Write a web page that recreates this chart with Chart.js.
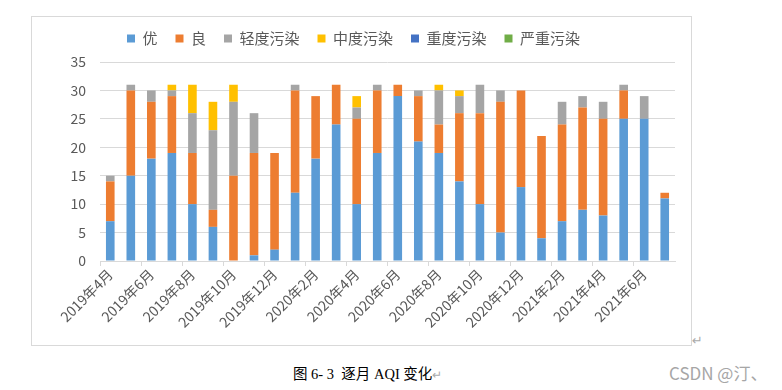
<!DOCTYPE html>
<html>
<head>
<meta charset="utf-8">
<script src="https://cdn.jsdelivr.net/npm/chart.js@4"></script>
<style>
  body { margin: 0; background: #fff; width: 782px; height: 390px; position: relative; overflow: hidden; }
  #frame { position: absolute; left: 31px; top: 16px; width: 659px; height: 328px; border: 1px solid #d9d9d9; }
  #caption { position: absolute; left: 293px; top: 362px; font: 14.5px "Liberation Serif", "Noto Sans CJK SC", serif; color: #000; white-space: pre; }
  .mark { color: #aaa; font-size: 12px; }
  #mark2 { position: absolute; left: 692px; top: 333px; font: 13px "DejaVu Sans", sans-serif; color: #aaa; }
  #wm { position: absolute; left: 669px; top: 360px; font: 17px "Noto Sans CJK SC", sans-serif; color: #a6a6a6; }
</style>
</head>
<body>
<div id="frame"><canvas id="grafico" width="659" height="328"></canvas></div>
<div id="mark2">↵</div>
<div id="caption">图 6- 3  逐月 AQI 变化<span class="mark">↵</span></div>
<div id="wm">CSDN @汀、</div>
<script>
const meses = [
  "2019年4月", "2019年5月", "2019年6月", "2019年7月", "2019年8月", "2019年9月", "2019年10月",
  "2019年11月", "2019年12月", "2020年1月", "2020年2月", "2020年3月", "2020年4月", "2020年5月",
  "2020年6月", "2020年7月", "2020年8月", "2020年9月", "2020年10月", "2020年11月", "2020年12月",
  "2021年1月", "2021年2月", "2021年3月", "2021年4月", "2021年5月", "2021年6月", "2021年7月"
];

const you      = [7, 15, 18, 19, 10, 6, 0, 1, 2, 12, 18, 24, 10, 19, 29, 21, 19, 14, 10, 5, 13, 4, 7, 9, 8, 25, 25, 11];
const liang    = [7, 15, 10, 10, 9, 3, 15, 18, 17, 18, 11, 7, 15, 11, 2, 8, 5, 12, 16, 23, 17, 18, 17, 18, 17, 5, 0, 1];
const qingdu   = [1, 1, 2, 1, 7, 14, 13, 7, 0, 1, 0, 0, 2, 1, 0, 1, 6, 3, 5, 2, 0, 0, 4, 2, 3, 1, 4, 0];
const zhongdu  = [0, 0, 0, 1, 5, 5, 3, 0, 0, 0, 0, 0, 2, 0, 0, 0, 1, 1, 0, 0, 0, 0, 0, 0, 0, 0, 0, 0];
const zhongdu2 = [0, 0, 0, 0, 0, 0, 0, 0, 0, 0, 0, 0, 0, 0, 0, 0, 0, 0, 0, 0, 0, 0, 0, 0, 0, 0, 0, 0];
const yanzhong = [0, 0, 0, 0, 0, 0, 0, 0, 0, 0, 0, 0, 0, 0, 0, 0, 0, 0, 0, 0, 0, 0, 0, 0, 0, 0, 0, 0];

const yTicks = [0, 5, 10, 15, 20, 25, 30, 35];

const fuente = '"Noto Sans CJK SC", sans-serif';
const gris = '#595959';

// sube la leyenda sin mover el área del gráfico
const subirLeyenda = {
  id: 'subirLeyenda',
  afterLayout(chart) {
    chart.legend.top -= 6;
    chart.legend.bottom -= 6;
  }
};

const ctx = document.getElementById("grafico").getContext("2d");

new Chart(ctx, {
  type: 'bar',
  data: {
    labels: meses,
    datasets: [
      { label: '优', data: you, backgroundColor: '#5B9BD5' },
      { label: '良', data: liang, backgroundColor: '#ED7D31' },
      { label: '轻度污染', data: qingdu, backgroundColor: '#A5A5A5' },
      { label: '中度污染', data: zhongdu, backgroundColor: '#FFC000' },
      { label: '重度污染', data: zhongdu2, backgroundColor: '#4472C4' },
      { label: '严重污染', data: yanzhong, backgroundColor: '#70AD47' }
    ]
  },
  plugins: [subirLeyenda],
  options: {
    responsive: false,
    animation: false,
    barPercentage: 0.42,
    categoryPercentage: 1,
    layout: { padding: { top: 2, right: 16, left: 0, bottom: 0 } },
    plugins: {
      legend: {
        position: 'top',
        labels: {
          boxWidth: 8,
          boxHeight: 8,
          padding: 18,
          color: gris,
          font: { family: fuente, size: 15 }
        }
      },
      tooltip: { enabled: false }
    },
    scales: {
      x: {
        stacked: true,
        grid: {
          offset: true,
          drawOnChartArea: false,
          tickLength: 5,
          color: (c) => (c.index % 2 === 0 ? '#d9d9d9' : 'rgba(0,0,0,0)')
        },
        border: { color: '#d9d9d9' },
        ticks: {
          autoSkip: false,
          minRotation: 45,
          maxRotation: 45,
          padding: 0,
          color: gris,
          font: { family: fuente, size: 14 },
          callback: function (value, index) {
            return index % 2 === 0 ? meses[index] : '';
          }
        },
        afterFit: (scale) => { scale.height = 84; }
      },
      y: {
        stacked: true,
        min: 0,
        max: 35,
        afterBuildTicks: (scale) => { scale.ticks = yTicks.map(v => ({ value: v })); },
        grid: { color: '#d9d9d9', drawTicks: false },
        border: { display: false },
        ticks: {
          padding: 14,
          color: gris,
          font: { family: fuente, size: 14 }
        },
        afterFit: (scale) => { scale.width = 68; }
      }
    }
  }
});
</script>
</body>
</html>
